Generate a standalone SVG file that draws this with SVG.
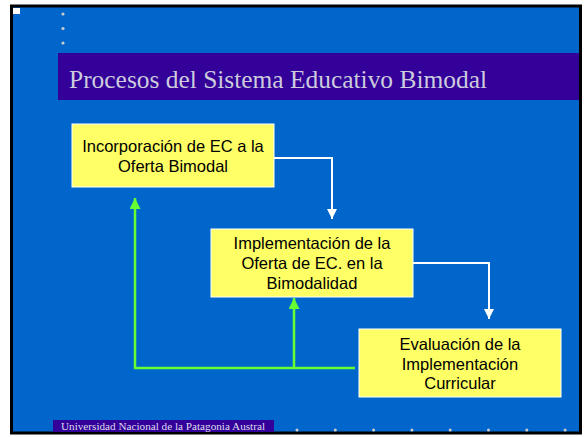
<svg xmlns="http://www.w3.org/2000/svg" width="587" height="437" viewBox="0 0 587 437">
<defs>
<style>
.box{fill:#FFFF66;stroke:#FFFFFF;stroke-width:1}
.bt{font-family:"Liberation Sans",Arial,sans-serif;font-size:16.5px;fill:#000000;text-anchor:middle}
.dot{fill:#CCCCCC}
.wl{fill:none;stroke:#FFFFFF;stroke-width:2}
.gl{fill:none;stroke:#66FF33;stroke-width:2.5}
</style>
<marker id="aw" viewBox="0 0 10 10" refX="10" refY="5" markerWidth="10" markerHeight="10" markerUnits="userSpaceOnUse" orient="auto"><path d="M0,0 L10,5 L0,10 z" fill="#FFFFFF"/></marker>
<marker id="ag" viewBox="0 0 10 10" refX="10" refY="5" markerWidth="11" markerHeight="11" markerUnits="userSpaceOnUse" orient="auto"><path d="M0,0 L10,5 L0,10 z" fill="#66FF33"/></marker>
</defs>
<rect x="0" y="0" width="587" height="437" fill="#FFFFFF"/>
<g id="background">
<rect x="11" y="6" width="570" height="427" fill="#0066CC"/>
<rect x="13" y="8" width="7" height="6" fill="#FFFFFF"/>
<circle class="dot" cx="63" cy="14" r="1.6"/>
<circle class="dot" cx="63" cy="28.5" r="1.6"/>
<circle class="dot" cx="63" cy="43" r="1.6"/>
</g>
<g id="title">
<rect x="58" y="53" width="523" height="47" fill="#330099"/>
<text x="69" y="88" font-family="'Liberation Serif','Times New Roman',serif" font-size="25.5" fill="#CCCCDD" textLength="418" lengthAdjust="spacingAndGlyphs">Procesos del Sistema Educativo Bimodal</text>
</g>
<g id="connectors">
<polyline class="wl" points="274,158 332,158 332,219" marker-end="url(#aw)"/>
<polyline class="wl" points="413,263 489,263 489,319" marker-end="url(#aw)"/>
<polyline class="gl" points="355,368 135,368 135,198" marker-end="url(#ag)"/>
<polyline class="gl" points="294,368 294,298" marker-end="url(#ag)"/>
</g>
<g id="node1">
<rect class="box" x="72" y="124" width="202" height="63"/>
<text class="bt" x="173" y="152">Incorporación de EC a la</text>
<text class="bt" x="173" y="172">Oferta Bimodal</text>
</g>
<g id="node2">
<rect class="box" x="211" y="229" width="202" height="68"/>
<text class="bt" x="312" y="249">Implementación de la</text>
<text class="bt" x="312" y="269">Oferta de EC. en la</text>
<text class="bt" x="312" y="289">Bimodalidad</text>
</g>
<g id="node3">
<rect class="box" x="359" y="329" width="202" height="68"/>
<text class="bt" x="460" y="350">Evaluación de la</text>
<text class="bt" x="460" y="370">Implementación</text>
<text class="bt" x="460" y="389">Curricular</text>
</g>
<g id="border">
<rect x="11.5" y="6" width="569" height="427" fill="none" stroke="#000000" stroke-width="3"/>
</g>
<g id="footer">
<rect x="53" y="420" width="221" height="12" fill="#330099"/>
<text x="61" y="430" font-family="'Liberation Serif','Times New Roman',serif" font-size="10" fill="#DDDDEE" textLength="204" lengthAdjust="spacingAndGlyphs">Universidad Nacional de la Patagonia Austral</text>
<circle class="dot" cx="297" cy="430" r="1.5"/>
<circle class="dot" cx="335.3" cy="430" r="1.5"/>
<circle class="dot" cx="373.6" cy="430" r="1.5"/>
<circle class="dot" cx="411.9" cy="430" r="1.5"/>
<circle class="dot" cx="450.2" cy="430" r="1.5"/>
<circle class="dot" cx="488.5" cy="430" r="1.5"/>
<circle class="dot" cx="526.8" cy="430" r="1.5"/>
<circle class="dot" cx="565.1" cy="430" r="1.5"/>
</g>
</svg>
